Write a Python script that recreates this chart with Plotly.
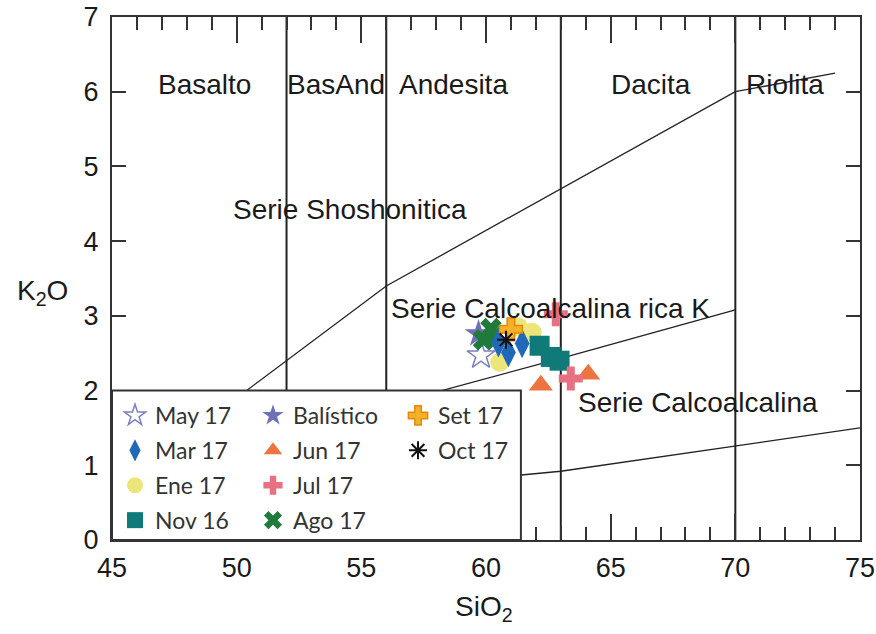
import plotly.graph_objects as go

# ---- data ----
series_names = ["May 17", "Mar 17", "Ene 17", "Nov 16", "Balístico", "Jun 17", "Jul 17", "Ago 17", "Set 17", "Oct 17"]
may17_x = [59.8];              may17_y = [2.47]
mar17_x = [60.5, 60.9, 61.45]; mar17_y = [2.64, 2.51, 2.63]
ene17_x = [60.55, 61.85, 61.3]; ene17_y = [2.38, 2.78, 2.85]
nov16_x = [62.15, 62.6, 62.95]; nov16_y = [2.6, 2.45, 2.4]
bal_x = [59.7];                bal_y = [2.76]
jun17_x = [62.2, 64.1];        jun17_y = [2.07, 2.22]
jul17_x = [62.8, 63.4];        jul17_y = [3.02, 2.16]
ago17_x = [59.9, 60.3, 60.2];  ago17_y = [2.68, 2.72, 2.83]
set17_x = [61.0];              set17_y = [2.82]
oct17_x = [60.8];              oct17_y = [2.68]

# boundary lines
div_x = [52, 56, 63, 70]
shosh_x = [48, 52, 56, 70, 74];      shosh_y = [1.4, 2.4, 3.4, 6.0, 6.25]
highk_x = [48, 52, 56, 63, 70];      highk_y = [1.2, 1.5, 1.8, 2.43, 3.08]
thol_x = [48, 52, 56, 63, 70, 75];   thol_y = [0.3, 0.5, 0.7, 0.92, 1.26, 1.5]

rock_names = ["Basalto", "BasAnd", "Andesita", "Dacita", "Riolita"]
rock_x = [48.7, 54.0, 58.7, 66.6, 72.0]
rock_y = [6.1, 6.1, 6.1, 6.1, 6.1]
series_labels = ["Serie Shoshonitica", "Serie Calcoalcalina rica K", "Serie Calcoalcalina"]
series_lab_x = [54.55, 62.6, 68.5]
series_lab_y = [4.43, 3.1, 1.84]

fig = go.Figure()

LINE = "#222222"
for xv in div_x:
    fig.add_trace(go.Scatter(x=[xv, xv], y=[0, 7], mode="lines",
                             line=dict(color=LINE, width=2), showlegend=False, hoverinfo="skip"))
for lx, ly in [(shosh_x, shosh_y), (highk_x, highk_y), (thol_x, thol_y)]:
    fig.add_trace(go.Scatter(x=lx, y=ly, mode="lines",
                             line=dict(color=LINE, width=1.3), showlegend=False, hoverinfo="skip"))

specs = [
    # name, x, y, symbol, color, line color, line width, size, legend, rank
    ("May 17", may17_x, may17_y, "star-open", "#7b7fc0", "#7b7fc0", 1.5, 21, "legend", 1),
    ("Balístico", bal_x, bal_y, "star", "#7070b8", "#7070b8", 0, 21, "legend2", 5),
    ("Ago 17", ago17_x, ago17_y, "x", "#1f7a3c", "#1f7a3c", 0, 19, "legend2", 8),
    ("Ene 17", ene17_x, ene17_y, "circle", "#ece57a", "#ece57a", 0, 19, "legend", 3),
    ("Mar 17", mar17_x, mar17_y, "diamond-tall", "#2068b8", "#2068b8", 0, 21, "legend", 2),
    ("Nov 16", nov16_x, nov16_y, "square", "#0f7a78", "#0f7a78", 0, 20, "legend", 4),
    ("Jun 17", jun17_x, jun17_y, "triangle-up", "#ec7440", "#ec7440", 0, 21, "legend2", 6),
    ("Jul 17", jul17_x, jul17_y, "cross", "#e87080", "#e87080", 0, 20, "legend2", 7),
    ("Set 17", set17_x, set17_y, "cross", "#f5b025", "#e08a10", 1.5, 19, "legend3", 9),
    ("Oct 17", oct17_x, oct17_y, "asterisk-open", "#111111", "#111111", 2, 15, "legend3", 10),
]
for name, xs, ys, sym, col, lcol, lw, sz, leg, rank in specs:
    fig.add_trace(go.Scatter(
        x=xs, y=ys, mode="markers", name=name, legend=leg, legendrank=rank,
        legendgroup=name,
        marker=dict(symbol=sym, color=col, size=sz, line=dict(color=lcol, width=lw)),
    ))

FONT = "Liberation Sans, Arial, sans-serif"
annotations = []
for t, xv, yv in zip(rock_names, rock_x, rock_y):
    annotations.append(dict(x=xv, y=yv, xref="x", yref="y", text=t, showarrow=False,
                            xanchor="center", yanchor="middle",
                            font=dict(family=FONT, size=28, color="#1a1a1a")))
for t, xv, yv in zip(series_labels, series_lab_x, series_lab_y):
    annotations.append(dict(x=xv, y=yv, xref="x", yref="y", text=t, showarrow=False,
                            xanchor="center", yanchor="middle",
                            font=dict(family=FONT, size=28, color="#1a1a1a")))
annotations.append(dict(x=(484 - 112) / 748, y=(540 - 608) / 523, xref="paper", yref="paper",
                        text="SiO<sub>2</sub>", showarrow=False, xanchor="center", yanchor="middle",
                        font=dict(family=FONT, size=28, color="#1a1a1a")))
annotations.append(dict(x=(42 - 112) / 748, y=(540 - 292) / 523, xref="paper", yref="paper",
                        text="K<sub>2</sub>O", showarrow=False, xanchor="center", yanchor="middle",
                        font=dict(family=FONT, size=28, color="#1a1a1a")))

leg_common = dict(xanchor="left", yanchor="top", bgcolor="rgba(0,0,0,0)", borderwidth=0,
                  font=dict(family="Lato, Open Sans, sans-serif", size=23, color="#333333"),
                  tracegroupgap=2, itemwidth=30, orientation="v")
leg_top = (540 - 394) / 523

fig.update_layout(
    width=876, height=634,
    margin=dict(l=112, r=16, t=17, b=94, autoexpand=False),
    plot_bgcolor="white", paper_bgcolor="white",
    showlegend=True,
    legend=dict(x=(115 - 112) / 748, y=leg_top, **leg_common),
    legend2=dict(x=(253 - 112) / 748, y=leg_top, **leg_common),
    legend3=dict(x=(398 - 112) / 748, y=leg_top, **leg_common),
    xaxis=dict(range=[45, 75], dtick=5, tick0=45, ticks="inside", ticklen=26, tickwidth=2,
               tickcolor="#333333", showline=True, linecolor="#333333", linewidth=2,
               mirror="ticks", showgrid=False, zeroline=False, automargin=False,
               ticklabeloverflow="allow",
               minor=dict(dtick=1, ticks="inside", ticklen=13, tickwidth=2, tickcolor="#333333"),
               tickfont=dict(family=FONT, size=27, color="#1a1a1a"), ticklabelstandoff=3),
    yaxis=dict(range=[0, 7], dtick=1, ticks="inside", ticklen=14, tickwidth=2,
               tickcolor="#333333", showline=True, linecolor="#333333", linewidth=2,
               mirror="ticks", showgrid=False, zeroline=False, automargin=False,
               ticklabeloverflow="allow",
               tickfont=dict(family=FONT, size=27, color="#1a1a1a"), ticklabelstandoff=6),
    shapes=[dict(type="rect", xref="x", yref="y", x0=45, x1=61.4, y0=0, y1=2.0,
                 fillcolor="white", line=dict(color="#333333", width=2), layer="above")],
    annotations=annotations,
)

# remove the page's default body margin so the figure sits at the window's corner
fig.write_html("out.html", config={"displayModeBar": False},
               post_script="document.body.style.margin='0';document.body.style.overflow='hidden';")
